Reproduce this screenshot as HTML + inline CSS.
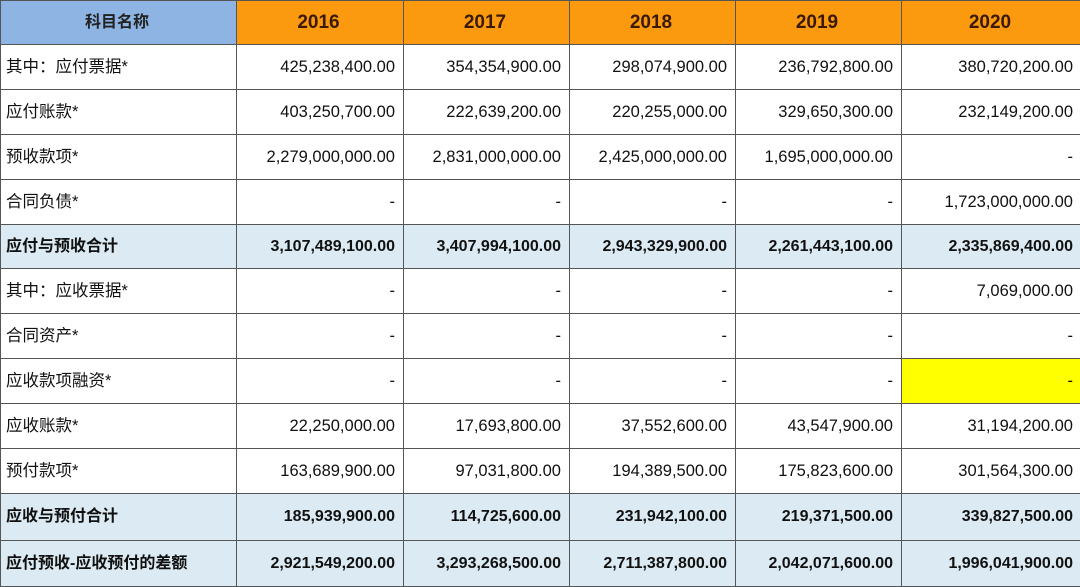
<!DOCTYPE html><html><head><meta charset="utf-8"><style>
body{margin:0;width:1080px;height:586px;overflow:hidden;background:#fff;font-family:"Liberation Sans",sans-serif}
table{border-collapse:collapse;table-layout:fixed;position:absolute;left:0;top:0;width:1081px}
td{border:1px solid #555;font-size:16.5px;line-height:20px;color:#111;padding:0 8px 0 5px;text-align:right;white-space:nowrap;overflow:hidden;vertical-align:middle;font-family:"Liberation Sans",sans-serif}
td:first-child{text-align:left;padding-left:5px;font-family:"Liberation Sans","Noto Sans CJK SC",sans-serif;font-size:16.5px}
tr.h td{background:#fb9a0e;font-weight:bold;font-size:19px;text-align:center;color:#3a1a05}
tr.h td:first-child{background:#8db4e2;font-size:16px;text-align:center;color:#222}
tr.t td{background:#dcebf3;font-weight:bold;font-size:16px}
</style></head><body>
<table>
<colgroup><col style="width:236px"><col style="width:167px"><col style="width:166px"><col style="width:166px"><col style="width:166px"><col style="width:180px"></colgroup>
<tr class="h" style="height:44px"><td>科目名称</td><td>2016</td><td>2017</td><td>2018</td><td>2019</td><td>2020</td></tr>
<tr style="height:45px"><td>其中：应付票据*</td><td>425,238,400.00</td><td>354,354,900.00</td><td>298,074,900.00</td><td>236,792,800.00</td><td>380,720,200.00</td></tr>
<tr style="height:45px"><td>应付账款*</td><td>403,250,700.00</td><td>222,639,200.00</td><td>220,255,000.00</td><td>329,650,300.00</td><td>232,149,200.00</td></tr>
<tr style="height:45px"><td>预收款项*</td><td>2,279,000,000.00</td><td>2,831,000,000.00</td><td>2,425,000,000.00</td><td>1,695,000,000.00</td><td>-</td></tr>
<tr style="height:45px"><td>合同负债*</td><td>-</td><td>-</td><td>-</td><td>-</td><td>1,723,000,000.00</td></tr>
<tr class="t" style="height:44px"><td>应付与预收合计</td><td>3,107,489,100.00</td><td>3,407,994,100.00</td><td>2,943,329,900.00</td><td>2,261,443,100.00</td><td>2,335,869,400.00</td></tr>
<tr style="height:45px"><td>其中：应收票据*</td><td>-</td><td>-</td><td>-</td><td>-</td><td>7,069,000.00</td></tr>
<tr style="height:45px"><td>合同资产*</td><td>-</td><td>-</td><td>-</td><td>-</td><td>-</td></tr>
<tr style="height:45px"><td>应收款项融资*</td><td>-</td><td>-</td><td>-</td><td>-</td><td style="background:#ffff00">-</td></tr>
<tr style="height:45px"><td>应收账款*</td><td>22,250,000.00</td><td>17,693,800.00</td><td>37,552,600.00</td><td>43,547,900.00</td><td>31,194,200.00</td></tr>
<tr style="height:45px"><td>预付款项*</td><td>163,689,900.00</td><td>97,031,800.00</td><td>194,389,500.00</td><td>175,823,600.00</td><td>301,564,300.00</td></tr>
<tr class="t" style="height:47px"><td>应收与预付合计</td><td>185,939,900.00</td><td>114,725,600.00</td><td>231,942,100.00</td><td>219,371,500.00</td><td>339,827,500.00</td></tr>
<tr class="t" style="height:46px"><td>应付预收-应收预付的差额</td><td>2,921,549,200.00</td><td>3,293,268,500.00</td><td>2,711,387,800.00</td><td>2,042,071,600.00</td><td>1,996,041,900.00</td></tr>
</table>
</body></html>
